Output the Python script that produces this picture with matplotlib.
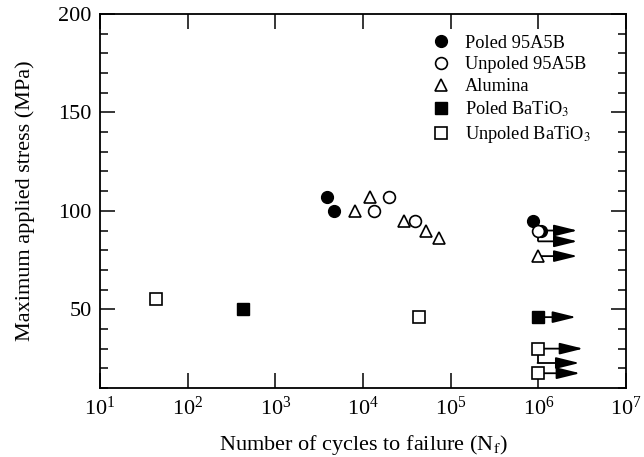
import matplotlib
matplotlib.use("Agg")
import matplotlib.pyplot as plt
from matplotlib.ticker import FixedLocator, MultipleLocator, NullLocator, LogFormatterSciNotation

plt.rcParams['font.family'] = ['Liberation Serif', 'DejaVu Serif']
plt.rcParams['mathtext.fontset'] = 'stix'

# ---- data ----
poled95_N = [3900, 4700, 8.6e5, 1.08e6]
poled95_S = [107, 100, 95, 90]
unpoled95_N = [2.0e4, 1.34e4, 3.95e4, 1.0e6]
unpoled95_S = [107, 100, 95, 90]
alumina_N = [1.19e4, 8.1e3, 2.95e4, 5.2e4, 7.3e4, 9.8e5]
alumina_S = [107, 100, 95, 90, 86, 77]
poledBT_N = [425, 9.8e5]
poledBT_S = [50, 46]
unpoledBT_N = [44, 4.3e4, 9.8e5, 9.8e5]
unpoledBT_S = [55, 46, 30, 17.5]

# run-out arrows: start (N, S), arrow level, tip N
arrow_start_N = [1.0e6, 1.0e6, 9.8e5, 9.8e5, 9.8e5, 9.8e5, 9.8e5]
arrow_start_S = [90, 90, 77, 46, 30, 30, 17.5]
arrow_level_S = [90, 84.5, 77, 46, 30, 22.7, 17.5]
arrow_tip_N = [2.8e6, 2.8e6, 2.8e6, 2.7e6, 3.25e6, 2.95e6, 3.0e6]

x_ticks = [1e1, 1e2, 1e3, 1e4, 1e5, 1e6, 1e7]
y_ticks = [50, 100, 150, 200]

series_labels = ['Poled 95A5B', 'Unpoled 95A5B', 'Alumina',
                 'Poled BaTiO$_3$', 'Unpoled BaTiO$_3$']

fig = plt.figure(figsize=(6.44, 4.57), dpi=100)
ax = fig.add_axes([100/644, 1-388/457, 526/644, 374/457])

# arrows (drawn beneath markers)
for n0, s0, sl, nt in zip(arrow_start_N, arrow_start_S, arrow_level_S, arrow_tip_N):
    if sl != s0:
        ax.plot([n0, n0], [s0, sl], color='k', lw=1.3, zorder=1, solid_capstyle='butt')
    ax.annotate('', xy=(nt, sl), xytext=(n0, sl),
                arrowprops=dict(arrowstyle='-|>,head_length=1.3,head_width=0.32',
                                mutation_scale=11, color='k', lw=1.3,
                                shrinkA=0, shrinkB=0),
                zorder=1)

ms = 8.5
ax.plot(poled95_N, poled95_S, 'o', ms=ms, mfc='k', mec='k', ls='none', zorder=3,
        label=series_labels[0])
ax.plot(unpoled95_N, unpoled95_S, 'o', ms=ms, mfc='white', mec='k', mew=1.2, ls='none',
        zorder=4, label=series_labels[1])
ax.plot(alumina_N, alumina_S, '^', ms=ms+0.5, mfc='white', mec='k', mew=1.2, ls='none',
        zorder=4, label=series_labels[2])
ax.plot(poledBT_N, poledBT_S, 's', ms=ms-0.5, mfc='k', mec='k', ls='none', zorder=4,
        label=series_labels[3])
ax.plot(unpoledBT_N, unpoledBT_S, 's', ms=ms-0.5, mfc='white', mec='k', mew=1.2, ls='none',
        zorder=4, label=series_labels[4])

ax.set_xscale('log')
ax.set_xlim(10, 1e7)
ax.set_ylim(10, 200)
ax.xaxis.set_major_locator(FixedLocator(x_ticks))
ax.xaxis.set_major_formatter(LogFormatterSciNotation())
ax.xaxis.set_minor_locator(NullLocator())
ax.yaxis.set_major_locator(FixedLocator(y_ticks))
ax.yaxis.set_minor_locator(MultipleLocator(10))

ax.tick_params(which='both', direction='in', top=True, right=True, width=1.1,
               labelsize=16, pad=6)
ax.tick_params(which='major', length=11)
ax.tick_params(which='minor', length=6)
for sp in ax.spines.values():
    sp.set_linewidth(1.3)

ax.set_xlabel('Number of cycles to failure (N$_\\mathrm{f}$)', fontsize=16, labelpad=10)
ax.set_ylabel('Maximum applied stress (MPa)', fontsize=16, labelpad=17)

ax.legend(loc='upper left', bbox_to_anchor=(0.631, 0.945), frameon=False, fontsize=13.2,
          handlelength=1.0, handletextpad=0.8, labelspacing=0.26, borderpad=0,
          borderaxespad=0, numpoints=1)

fig.savefig('out.png', dpi=100)
